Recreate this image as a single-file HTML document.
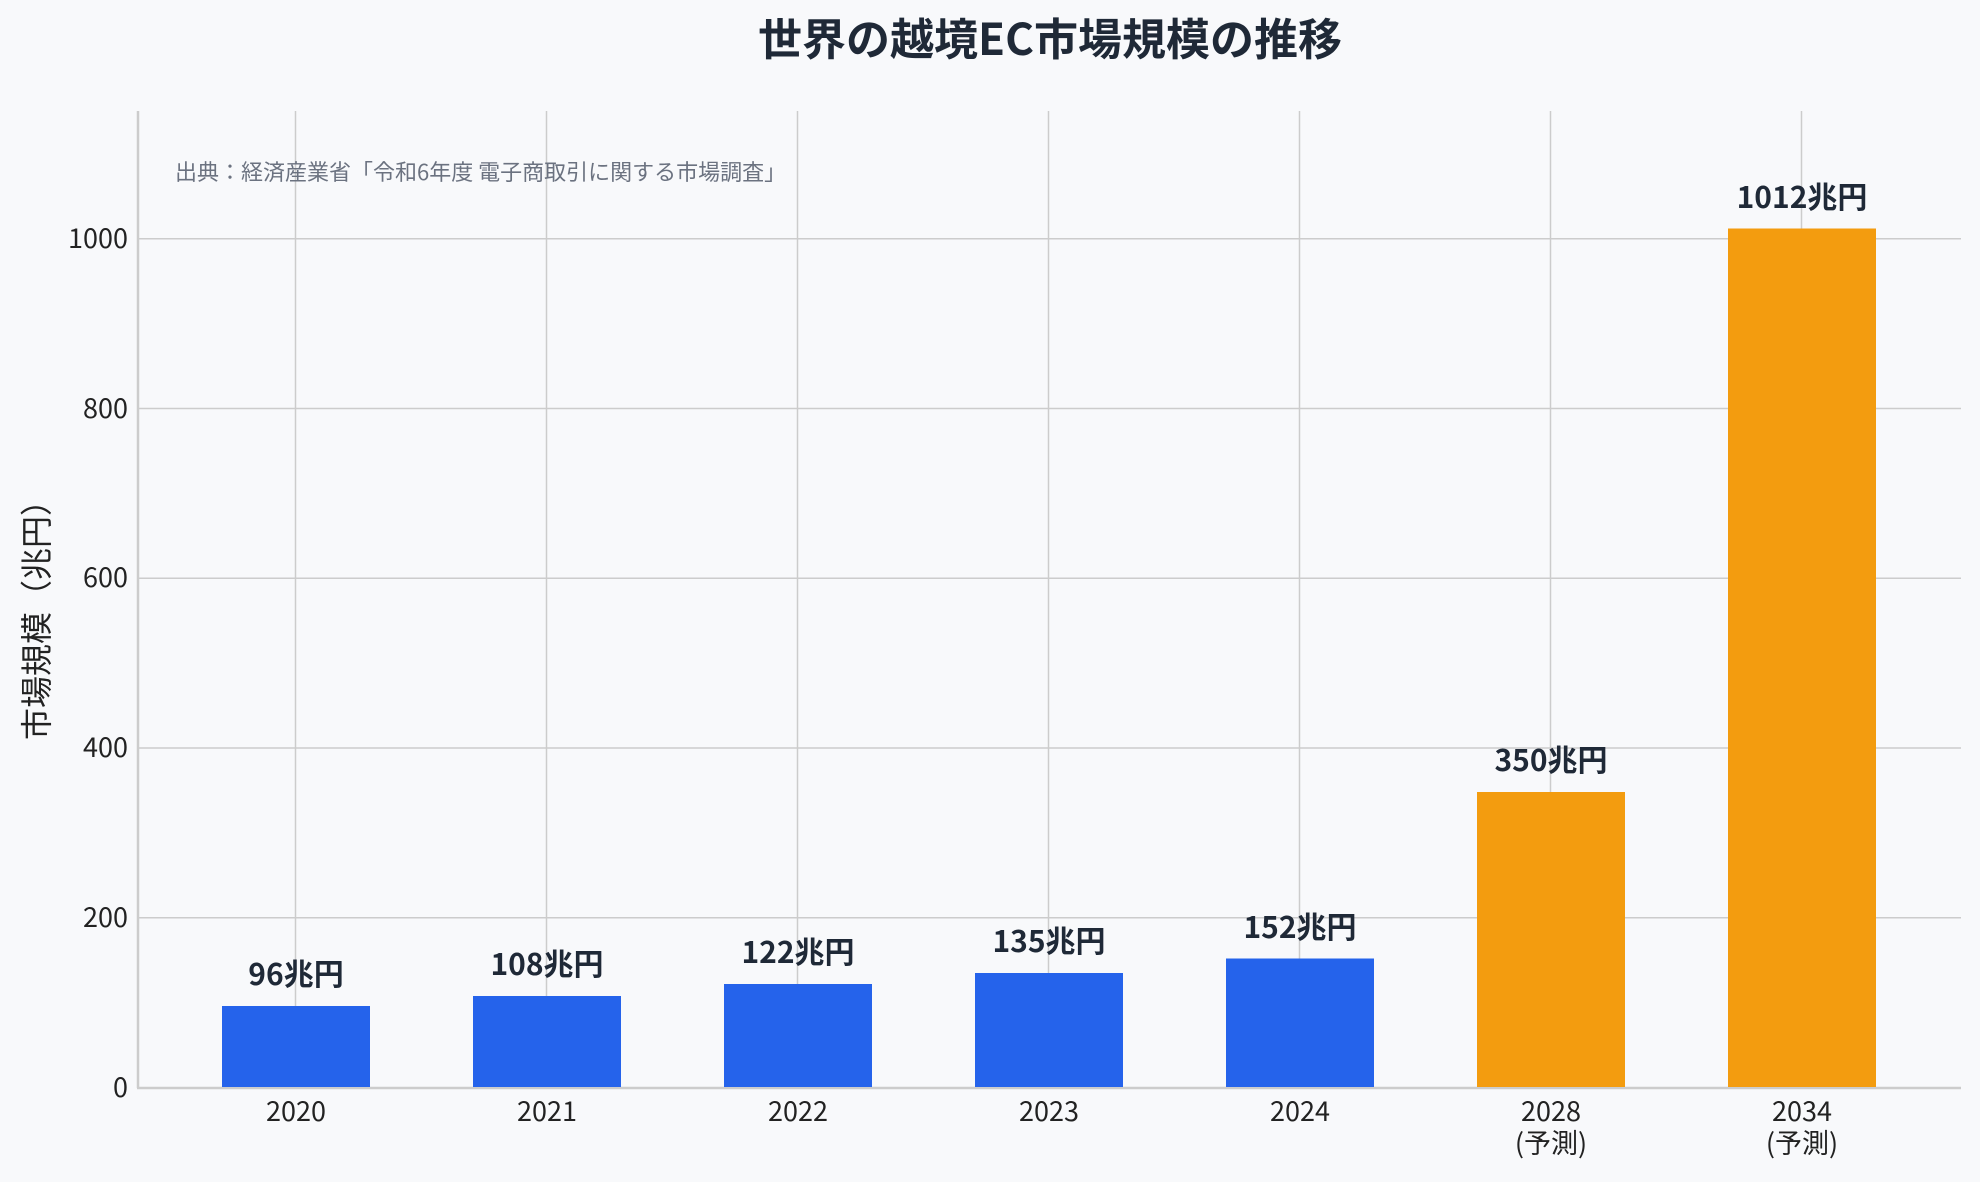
<!DOCTYPE html>
<html><head><meta charset="utf-8"><style>
html,body{margin:0;padding:0;background:#f8f9fb;}
svg{display:block;font-family:"Liberation Sans","Noto Sans CJK JP",sans-serif;}
</style></head><body>
<svg width="1980" height="1182" viewBox="0 0 1980 1182" xmlns="http://www.w3.org/2000/svg">
<rect width="1980" height="1182" fill="#f8f9fb"/>
<text x="1050" y="55" text-anchor="middle" font-size="44" font-weight="bold" fill="#1f2937" font-family="Noto Sans CJK JP, sans-serif">世界の越境EC市場規模の推移</text>
<g stroke="#cccccc" stroke-width="1.5">
<line x1="295.5" y1="111" x2="295.5" y2="1087"/>
<line x1="546.5" y1="111" x2="546.5" y2="1087"/>
<line x1="797.5" y1="111" x2="797.5" y2="1087"/>
<line x1="1048.5" y1="111" x2="1048.5" y2="1087"/>
<line x1="1299.5" y1="111" x2="1299.5" y2="1087"/>
<line x1="1550.5" y1="111" x2="1550.5" y2="1087"/>
<line x1="1801.5" y1="111" x2="1801.5" y2="1087"/>
<line x1="138" y1="238.7" x2="1961" y2="238.7"/>
<line x1="138" y1="408.5" x2="1961" y2="408.5"/>
<line x1="138" y1="578.2" x2="1961" y2="578.2"/>
<line x1="138" y1="748" x2="1961" y2="748"/>
<line x1="138" y1="917.7" x2="1961" y2="917.7"/>
</g>
<g stroke="#cccccc" stroke-width="2.5">
<line x1="138" y1="111" x2="138" y2="1088"/>
<line x1="137" y1="1088" x2="1961" y2="1088"/>
</g>
<g fill="#2563eb">
<rect x="222" y="1006" width="148" height="81"/>
<rect x="473" y="996" width="148" height="91"/>
<rect x="724" y="984" width="148" height="103"/>
<rect x="975" y="973" width="148" height="114"/>
<rect x="1226" y="958.5" width="148" height="128.5"/>
</g>
<g fill="#f39c0f">
<rect x="1477" y="792" width="148" height="295"/>
<rect x="1728" y="228.5" width="148" height="858.5"/>
</g>
<text x="175" y="180" font-size="22" fill="#6b7280" font-family="Noto Sans CJK JP, sans-serif">出典：経済産業省「令和6年度 電子商取引に関する市場調査」</text>
<g font-size="30" font-weight="bold" fill="#1f2937" text-anchor="middle" font-family="Noto Sans CJK JP, sans-serif">
<text x="296" y="985">96兆円</text>
<text x="547" y="975">108兆円</text>
<text x="798" y="963">122兆円</text>
<text x="1049" y="952">135兆円</text>
<text x="1300" y="938">152兆円</text>
<text x="1551" y="771">350兆円</text>
<text x="1802" y="208">1012兆円</text>
</g>
<g font-size="27" fill="#222" text-anchor="end" font-family="Noto Sans CJK JP, sans-serif">
<text x="128" y="1097">0</text>
<text x="128" y="927">200</text>
<text x="128" y="757">400</text>
<text x="128" y="587">600</text>
<text x="128" y="418">800</text>
<text x="128" y="248">1000</text>
</g>
<g font-size="27" fill="#222" text-anchor="middle" font-family="Noto Sans CJK JP, sans-serif">
<text x="296" y="1121">2020</text>
<text x="547" y="1121">2021</text>
<text x="798" y="1121">2022</text>
<text x="1049" y="1121">2023</text>
<text x="1300" y="1121">2024</text>
<text x="1551" y="1121">2028</text>
<text x="1551" y="1153">(予測)</text>
<text x="1802" y="1121">2034</text>
<text x="1802" y="1153">(予測)</text>
</g>
<text transform="translate(48,612) rotate(-90)" font-size="32" fill="#222" text-anchor="middle" font-family="Noto Sans CJK JP, sans-serif">市場規模（兆円）</text>
</svg>
</body></html>
